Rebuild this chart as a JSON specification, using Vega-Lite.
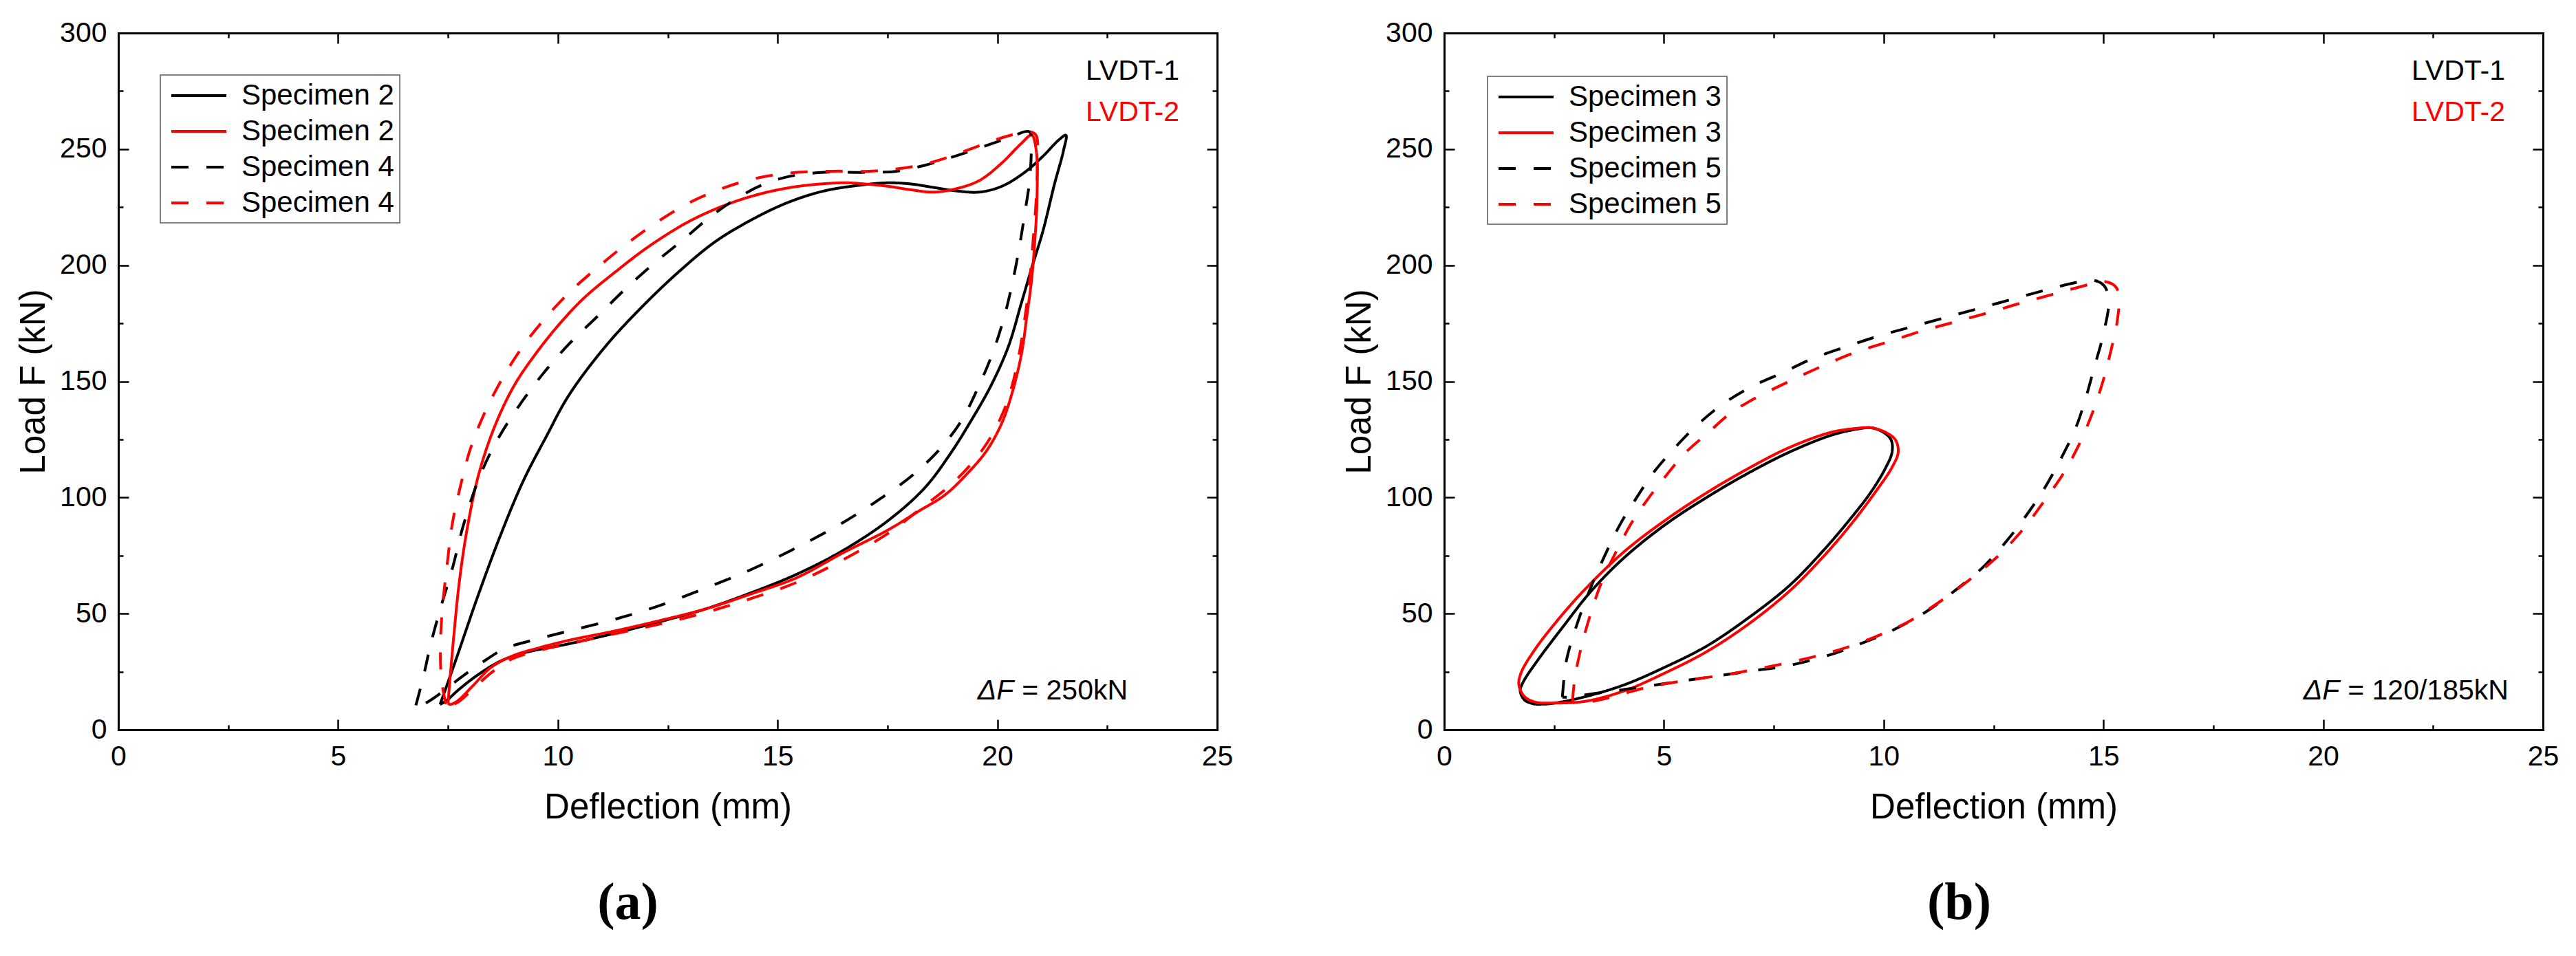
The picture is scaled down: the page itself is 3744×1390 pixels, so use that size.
{
  "$schema": "https://vega.github.io/schema/vega-lite/v6.json",
  "background": "white",
  "padding": {"left": 23, "top": 27, "right": 10, "bottom": 10},
  "spacing": 158,
  "datasets": {
    "a": [
      {"s":"S2-1","x":7.32,"y":10.9},{"s":"S2-1","x":7.66,"y":29},{"s":"S2-1","x":8.17,"y":57},{"s":"S2-1","x":8.69,"y":83.5},{"s":"S2-1","x":9.21,"y":107},{"s":"S2-1","x":9.73,"y":126},{"s":"S2-1","x":10.25,"y":144},{"s":"S2-1","x":11.08,"y":165},{"s":"S2-1","x":11.91,"y":182},{"s":"S2-1","x":12.74,"y":197},{"s":"S2-1","x":13.57,"y":210},{"s":"S2-1","x":14.4,"y":219.5},{"s":"S2-1","x":15.23,"y":227},{"s":"S2-1","x":16.06,"y":232},{"s":"S2-1","x":16.89,"y":234.5},{"s":"S2-1","x":17.51,"y":235.5},{"s":"S2-1","x":18.03,"y":235},{"s":"S2-1","x":18.55,"y":233.5},{"s":"S2-1","x":19.07,"y":232},{"s":"S2-1","x":19.59,"y":231.5},{"s":"S2-1","x":20.1,"y":234},{"s":"S2-1","x":20.62,"y":240},{"s":"S2-1","x":21.04,"y":247},{"s":"S2-1","x":21.4,"y":254},{"s":"S2-1","x":21.56,"y":256},
      {"s":"S2-1","x":21.5,"y":249},{"s":"S2-1","x":21.3,"y":235},{"s":"S2-1","x":21.04,"y":215},{"s":"S2-1","x":20.8,"y":200},{"s":"S2-1","x":20.55,"y":184},{"s":"S2-1","x":20.25,"y":165},{"s":"S2-1","x":19.85,"y":148},{"s":"S2-1","x":19.4,"y":133},{"s":"S2-1","x":18.9,"y":118},{"s":"S2-1","x":18.34,"y":104},{"s":"S2-1","x":17.51,"y":90},{"s":"S2-1","x":16.47,"y":77},{"s":"S2-1","x":15.44,"y":67},{"s":"S2-1","x":14.4,"y":59},{"s":"S2-1","x":13.36,"y":52},{"s":"S2-1","x":12.32,"y":46.5},{"s":"S2-1","x":11.29,"y":41.5},{"s":"S2-1","x":10.25,"y":37},{"s":"S2-1","x":9.21,"y":33},{"s":"S2-1","x":8.69,"y":29.5},{"s":"S2-1","x":8.17,"y":23.5},{"s":"S2-1","x":7.76,"y":17.5},{"s":"S2-1","x":7.45,"y":12.3},{"s":"S2-1","x":7.32,"y":10.9},

      {"s":"S2-2","x":7.5,"y":11.4},{"s":"S2-2","x":7.62,"y":37.8},{"s":"S2-2","x":7.76,"y":64},{"s":"S2-2","x":7.95,"y":88},{"s":"S2-2","x":8.2,"y":110},{"s":"S2-2","x":8.55,"y":130},{"s":"S2-2","x":9.0,"y":148},{"s":"S2-2","x":9.5,"y":162},{"s":"S2-2","x":10.05,"y":175},{"s":"S2-2","x":10.6,"y":186},{"s":"S2-2","x":11.3,"y":197},{"s":"S2-2","x":12.1,"y":208.5},{"s":"S2-2","x":13.1,"y":220},{"s":"S2-2","x":14.2,"y":228.5},{"s":"S2-2","x":15.3,"y":233.5},{"s":"S2-2","x":16.47,"y":235.5},{"s":"S2-2","x":16.99,"y":235},{"s":"S2-2","x":17.51,"y":234},{"s":"S2-2","x":18.03,"y":232.5},{"s":"S2-2","x":18.55,"y":231.5},{"s":"S2-2","x":19.07,"y":233},{"s":"S2-2","x":19.59,"y":236.5},{"s":"S2-2","x":20.1,"y":244},{"s":"S2-2","x":20.52,"y":252},{"s":"S2-2","x":20.78,"y":256},
      {"s":"S2-2","x":20.88,"y":250},{"s":"S2-2","x":20.9,"y":227.6},{"s":"S2-2","x":20.85,"y":210},{"s":"S2-2","x":20.78,"y":194},{"s":"S2-2","x":20.67,"y":178},{"s":"S2-2","x":20.55,"y":162},{"s":"S2-2","x":20.35,"y":146},{"s":"S2-2","x":20.1,"y":132},{"s":"S2-2","x":19.75,"y":120},{"s":"S2-2","x":19.3,"y":110},{"s":"S2-2","x":18.8,"y":101},{"s":"S2-2","x":18.2,"y":94},{"s":"S2-2","x":17.51,"y":86},{"s":"S2-2","x":16.47,"y":76},{"s":"S2-2","x":15.44,"y":65.5},{"s":"S2-2","x":14.4,"y":58.5},{"s":"S2-2","x":13.36,"y":52},{"s":"S2-2","x":12.32,"y":47},{"s":"S2-2","x":11.29,"y":42.5},{"s":"S2-2","x":10.25,"y":38.5},{"s":"S2-2","x":9.52,"y":35},{"s":"S2-2","x":9.0,"y":32},{"s":"S2-2","x":8.49,"y":27},{"s":"S2-2","x":8.07,"y":19},{"s":"S2-2","x":7.71,"y":12.3},{"s":"S2-2","x":7.55,"y":10.9},{"s":"S2-2","x":7.5,"y":11.4},

      {"s":"S4-1","x":6.77,"y":10.5},{"s":"S4-1","x":6.93,"y":22},{"s":"S4-1","x":7.12,"y":37.8},{"s":"S4-1","x":7.35,"y":53.6},{"s":"S4-1","x":7.6,"y":69.4},{"s":"S4-1","x":7.85,"y":88},{"s":"S4-1","x":8.2,"y":108},{"s":"S4-1","x":8.6,"y":124},{"s":"S4-1","x":9.1,"y":139},{"s":"S4-1","x":9.65,"y":153},{"s":"S4-1","x":10.25,"y":166},{"s":"S4-1","x":10.9,"y":178},{"s":"S4-1","x":11.55,"y":190},{"s":"S4-1","x":12.2,"y":201},{"s":"S4-1","x":12.85,"y":211},{"s":"S4-1","x":13.45,"y":220.6},{"s":"S4-1","x":14.05,"y":228.5},{"s":"S4-1","x":14.65,"y":234.6},{"s":"S4-1","x":15.33,"y":238.5},{"s":"S4-1","x":16.06,"y":240},{"s":"S4-1","x":16.99,"y":240},{"s":"S4-1","x":17.72,"y":240.5},{"s":"S4-1","x":18.34,"y":243},{"s":"S4-1","x":18.96,"y":246.5},{"s":"S4-1","x":19.59,"y":250.5},{"s":"S4-1","x":20.21,"y":254.5},{"s":"S4-1","x":20.73,"y":257.5},
      {"s":"S4-1","x":20.77,"y":252},{"s":"S4-1","x":20.73,"y":236},{"s":"S4-1","x":20.62,"y":222},{"s":"S4-1","x":20.52,"y":210},{"s":"S4-1","x":20.36,"y":194},{"s":"S4-1","x":20.16,"y":178},{"s":"S4-1","x":19.9,"y":162.6},{"s":"S4-1","x":19.59,"y":148.5},{"s":"S4-1","x":19.17,"y":132.7},{"s":"S4-1","x":18.65,"y":120},{"s":"S4-1","x":18.03,"y":109},{"s":"S4-1","x":17.3,"y":99},{"s":"S4-1","x":16.47,"y":89},{"s":"S4-1","x":15.44,"y":78.5},{"s":"S4-1","x":14.4,"y":69},{"s":"S4-1","x":13.36,"y":61},{"s":"S4-1","x":12.32,"y":53.5},{"s":"S4-1","x":11.29,"y":47.5},{"s":"S4-1","x":10.25,"y":42.5},{"s":"S4-1","x":9.42,"y":38.5},{"s":"S4-1","x":8.8,"y":35},{"s":"S4-1","x":8.28,"y":29},{"s":"S4-1","x":7.76,"y":22},{"s":"S4-1","x":7.34,"y":15.8},{"s":"S4-1","x":6.98,"y":11.4},{"s":"S4-1","x":6.77,"y":10.5},

      {"s":"S4-2","x":7.45,"y":11},{"s":"S4-2","x":7.35,"y":22},{"s":"S4-2","x":7.33,"y":37.8},{"s":"S4-2","x":7.38,"y":53.6},{"s":"S4-2","x":7.48,"y":71},{"s":"S4-2","x":7.6,"y":88.8},{"s":"S4-2","x":7.78,"y":104.6},{"s":"S4-2","x":8.0,"y":120.4},{"s":"S4-2","x":8.3,"y":135},{"s":"S4-2","x":8.7,"y":150},{"s":"S4-2","x":9.2,"y":165},{"s":"S4-2","x":9.75,"y":178},{"s":"S4-2","x":10.3,"y":189},{"s":"S4-2","x":10.9,"y":199},{"s":"S4-2","x":11.55,"y":209},{"s":"S4-2","x":12.25,"y":218.5},{"s":"S4-2","x":13.0,"y":227},{"s":"S4-2","x":13.8,"y":233.5},{"s":"S4-2","x":14.6,"y":237.8},{"s":"S4-2","x":15.44,"y":240},{"s":"S4-2","x":16.27,"y":240.5},{"s":"S4-2","x":17.09,"y":240.5},{"s":"S4-2","x":17.72,"y":241.5},{"s":"S4-2","x":18.34,"y":243.5},{"s":"S4-2","x":18.96,"y":247},{"s":"S4-2","x":19.59,"y":251.5},{"s":"S4-2","x":20.21,"y":255.5},{"s":"S4-2","x":20.73,"y":257.5},{"s":"S4-2","x":20.88,"y":256},
      {"s":"S4-2","x":20.91,"y":245},{"s":"S4-2","x":20.88,"y":227.6},{"s":"S4-2","x":20.81,"y":210},{"s":"S4-2","x":20.73,"y":192.4},{"s":"S4-2","x":20.62,"y":176.6},{"s":"S4-2","x":20.52,"y":164.3},{"s":"S4-2","x":20.36,"y":150},{"s":"S4-2","x":20.16,"y":138},{"s":"S4-2","x":19.84,"y":125.7},{"s":"S4-2","x":19.43,"y":115},{"s":"S4-2","x":18.91,"y":105},{"s":"S4-2","x":18.24,"y":95},{"s":"S4-2","x":17.51,"y":84.5},{"s":"S4-2","x":16.47,"y":73},{"s":"S4-2","x":15.44,"y":63.5},{"s":"S4-2","x":14.4,"y":56.5},{"s":"S4-2","x":13.36,"y":50.5},{"s":"S4-2","x":12.32,"y":45.5},{"s":"S4-2","x":11.29,"y":41.3},{"s":"S4-2","x":10.25,"y":37},{"s":"S4-2","x":9.42,"y":33.4},{"s":"S4-2","x":8.9,"y":30},{"s":"S4-2","x":8.49,"y":24.6},{"s":"S4-2","x":8.07,"y":17.6},{"s":"S4-2","x":7.76,"y":12.3},{"s":"S4-2","x":7.55,"y":10.5},{"s":"S4-2","x":7.45,"y":11}
    ],
    "b": [
      {"s":"S3-1","x":2.07,"y":11},{"s":"S3-1","x":2.41,"y":11.2},{"s":"S3-1","x":3.16,"y":14},{"s":"S3-1","x":4.09,"y":19.3},{"s":"S3-1","x":5.03,"y":27},{"s":"S3-1","x":5.97,"y":36},{"s":"S3-1","x":6.91,"y":48},{"s":"S3-1","x":7.85,"y":62},{"s":"S3-1","x":8.6,"y":76.6},{"s":"S3-1","x":9.25,"y":91},{"s":"S3-1","x":9.72,"y":102.6},{"s":"S3-1","x":10.05,"y":113},{"s":"S3-1","x":10.19,"y":119.5},{"s":"S3-1","x":10.17,"y":124.7},{"s":"S3-1","x":10.0,"y":128},{"s":"S3-1","x":9.72,"y":130},{"s":"S3-1","x":9.35,"y":129.3},{"s":"S3-1","x":8.79,"y":126.7},{"s":"S3-1","x":7.85,"y":119.5},{"s":"S3-1","x":6.91,"y":110.4},{"s":"S3-1","x":5.97,"y":100},{"s":"S3-1","x":5.03,"y":88.3},{"s":"S3-1","x":4.09,"y":74},{"s":"S3-1","x":3.34,"y":59.6},{"s":"S3-1","x":2.69,"y":44},{"s":"S3-1","x":2.12,"y":29.7},{"s":"S3-1","x":1.8,"y":20.6},{"s":"S3-1","x":1.73,"y":16.7},{"s":"S3-1","x":1.84,"y":12.6},{"s":"S3-1","x":2.07,"y":11},

      {"s":"S3-2","x":2.31,"y":11.5},{"s":"S3-2","x":3.16,"y":12.1},{"s":"S3-2","x":4.09,"y":16.7},{"s":"S3-2","x":5.03,"y":24.5},{"s":"S3-2","x":5.97,"y":33.6},{"s":"S3-2","x":6.91,"y":45.3},{"s":"S3-2","x":7.85,"y":59.6},{"s":"S3-2","x":8.6,"y":74},{"s":"S3-2","x":9.25,"y":88.3},{"s":"S3-2","x":9.82,"y":102.6},{"s":"S3-2","x":10.19,"y":113},{"s":"S3-2","x":10.33,"y":119.5},{"s":"S3-2","x":10.27,"y":124.7},{"s":"S3-2","x":10.05,"y":128},{"s":"S3-2","x":9.72,"y":130},{"s":"S3-2","x":9.35,"y":129.7},{"s":"S3-2","x":8.79,"y":128},{"s":"S3-2","x":7.85,"y":121.5},{"s":"S3-2","x":6.91,"y":112.4},{"s":"S3-2","x":5.97,"y":102},{"s":"S3-2","x":5.03,"y":90.2},{"s":"S3-2","x":4.09,"y":76.6},{"s":"S3-2","x":3.16,"y":59.6},{"s":"S3-2","x":2.5,"y":45.3},{"s":"S3-2","x":2.03,"y":33.6},{"s":"S3-2","x":1.75,"y":24.5},{"s":"S3-2","x":1.7,"y":19.3},{"s":"S3-2","x":1.84,"y":14},{"s":"S3-2","x":2.12,"y":11.7},{"s":"S3-2","x":2.31,"y":11.5},

      {"s":"S5-1","x":2.69,"y":14},{"s":"S5-1","x":2.78,"y":29.7},{"s":"S5-1","x":3.02,"y":45.3},{"s":"S5-1","x":3.3,"y":59.6},{"s":"S5-1","x":3.63,"y":74},{"s":"S5-1","x":4.0,"y":88.3},{"s":"S5-1","x":4.38,"y":100},{"s":"S5-1","x":4.75,"y":110.4},{"s":"S5-1","x":5.22,"y":120.8},{"s":"S5-1","x":5.69,"y":130},{"s":"S5-1","x":6.25,"y":139},{"s":"S5-1","x":6.91,"y":146.9},{"s":"S5-1","x":7.66,"y":153.4},{"s":"S5-1","x":8.41,"y":160},{"s":"S5-1","x":9.16,"y":165},{"s":"S5-1","x":9.91,"y":169.7},{"s":"S5-1","x":10.66,"y":173.6},{"s":"S5-1","x":11.41,"y":177.5},{"s":"S5-1","x":12.16,"y":181.4},{"s":"S5-1","x":12.91,"y":185.3},{"s":"S5-1","x":13.66,"y":189.2},{"s":"S5-1","x":14.41,"y":192.7},{"s":"S5-1","x":14.79,"y":193.5},{"s":"S5-1","x":15.02,"y":191.1},{"s":"S5-1","x":15.12,"y":184.6},{"s":"S5-1","x":14.98,"y":169},{"s":"S5-1","x":14.79,"y":156},{"s":"S5-1","x":14.6,"y":143},{"s":"S5-1","x":14.37,"y":130},{"s":"S5-1","x":14.04,"y":117},{"s":"S5-1","x":13.66,"y":104},{"s":"S5-1","x":13.29,"y":93.5},{"s":"S5-1","x":12.82,"y":81.8},{"s":"S5-1","x":12.26,"y":70},{"s":"S5-1","x":11.6,"y":59.6},{"s":"S5-1","x":10.94,"y":50.5},{"s":"S5-1","x":10.19,"y":42.7},{"s":"S5-1","x":9.44,"y":36.8},{"s":"S5-1","x":8.79,"y":32.3},{"s":"S5-1","x":7.85,"y":27.7},{"s":"S5-1","x":6.91,"y":25.1},{"s":"S5-1","x":5.97,"y":22.5},{"s":"S5-1","x":5.03,"y":19.9},{"s":"S5-1","x":4.09,"y":17.3},{"s":"S5-1","x":3.34,"y":15.4},{"s":"S5-1","x":2.88,"y":14.1},{"s":"S5-1","x":2.69,"y":14},

      {"s":"S5-2","x":2.92,"y":12.1},{"s":"S5-2","x":2.97,"y":21.9},{"s":"S5-2","x":3.11,"y":34.9},{"s":"S5-2","x":3.3,"y":47.9},{"s":"S5-2","x":3.58,"y":63.5},{"s":"S5-2","x":3.91,"y":76.6},{"s":"S5-2","x":4.28,"y":89.6},{"s":"S5-2","x":4.66,"y":100},{"s":"S5-2","x":5.03,"y":109},{"s":"S5-2","x":5.5,"y":119.5},{"s":"S5-2","x":5.97,"y":127.3},{"s":"S5-2","x":6.53,"y":136.5},{"s":"S5-2","x":7.1,"y":143},{"s":"S5-2","x":7.85,"y":150},{"s":"S5-2","x":8.6,"y":156.6},{"s":"S5-2","x":9.35,"y":162.5},{"s":"S5-2","x":10.1,"y":167},{"s":"S5-2","x":10.85,"y":171.6},{"s":"S5-2","x":11.6,"y":175.5},{"s":"S5-2","x":12.35,"y":179.4},{"s":"S5-2","x":13.1,"y":183.6},{"s":"S5-2","x":13.85,"y":187.5},{"s":"S5-2","x":14.6,"y":191.4},{"s":"S5-2","x":14.98,"y":193.1},{"s":"S5-2","x":15.26,"y":191.1},{"s":"S5-2","x":15.35,"y":187.2},{"s":"S5-2","x":15.31,"y":175.5},{"s":"S5-2","x":15.16,"y":162.5},{"s":"S5-2","x":14.98,"y":149.5},{"s":"S5-2","x":14.75,"y":136.5},{"s":"S5-2","x":14.46,"y":123.4},{"s":"S5-2","x":14.09,"y":110.4},{"s":"S5-2","x":13.66,"y":98.7},{"s":"S5-2","x":13.2,"y":87},{"s":"S5-2","x":12.63,"y":75.3},{"s":"S5-2","x":11.97,"y":64.8},{"s":"S5-2","x":11.32,"y":55.7},{"s":"S5-2","x":10.57,"y":46.6},{"s":"S5-2","x":9.82,"y":40.1},{"s":"S5-2","x":9.07,"y":34.9},{"s":"S5-2","x":8.32,"y":31},{"s":"S5-2","x":7.38,"y":27.1},{"s":"S5-2","x":6.44,"y":23.8},{"s":"S5-2","x":5.5,"y":21.2},{"s":"S5-2","x":4.56,"y":18},{"s":"S5-2","x":3.81,"y":14.1},{"s":"S5-2","x":3.34,"y":12.1},{"s":"S5-2","x":2.97,"y":11.5},{"s":"S5-2","x":2.92,"y":12.1}
    ]
  },
  "hconcat": [
    {
      "width": 1597,
      "height": 1013,
      "title": {"text": "(a)", "orient": "bottom", "font": "Liberation Serif", "fontSize": 76, "fontWeight": "bold", "color": "black", "offset": 77, "dx": -58},
      "layer": [
        {
          "data": {"name": "a"},
          "mark": {"type": "line", "strokeWidth": 4, "interpolate": "catmull-rom", "order": false},
          "encoding": {
            "x": {"field": "x", "type": "quantitative", "scale": {"domain": [0, 25], "nice": false},
              "axis": {"title": "Deflection (mm)", "values": [0, 2.5, 5, 7.5, 10, 12.5, 15, 17.5, 20, 22.5, 25],
                "labelExpr": "datum.value % 5 === 0 ? datum.label : ''",
                "tickSize": {"condition": {"test": "datum.value % 5 === 0", "value": -15}, "value": -7},
                "labelPadding": 34, "minExtent": 59, "maxExtent": 59, "titlePadding": 29}},
            "y": {"field": "y", "type": "quantitative", "scale": {"domain": [0, 300], "nice": false},
              "axis": {"title": "Load F (kN)", "values": [0, 25, 50, 75, 100, 125, 150, 175, 200, 225, 250, 275, 300],
                "labelExpr": "datum.value % 50 === 0 ? datum.label : ''",
                "tickSize": {"condition": {"test": "datum.value % 50 === 0", "value": -15}, "value": -7},
                "labelPadding": 32, "minExtent": 85, "maxExtent": 85, "titlePadding": 12}},
            "color": {"field": "s", "type": "nominal",
              "scale": {"domain": ["S2-1", "S2-2", "S4-1", "S4-2"], "range": ["#000000", "#ff0000", "#000000", "#ff0000"]},
              "legend": {"orient": "top-left", "offset": 61, "title": null,
                "labelExpr": "'Specimen ' + slice(datum.label, 1, 2)",
                "symbolType": "M-0.7,0H3.3", "symbolSize": 1600, "symbolStrokeWidth": 4,
                "labelOffset": 66, "rowPadding": 9, "columnPadding": 0, "padding": 8}},
            "strokeDash": {"field": "s", "type": "nominal",
              "scale": {"domain": ["S2-1", "S2-2", "S4-1", "S4-2"], "range": [[1, 0], [1, 0], [25, 26], [25, 26]]}}
          }
        },
        {
          "data": {"values": [{"t": "LVDT-1", "x": 24.14, "y": 280}, {"t": "LVDT-2", "x": 24.14, "y": 262}]},
          "mark": {"type": "text", "align": "right", "baseline": "alphabetic", "fontSize": 41},
          "encoding": {
            "x": {"field": "x", "type": "quantitative",
              "axis": {"orient": "top", "labels": false, "title": null, "minExtent": 0, "maxExtent": 0, "values": [0, 2.5, 5, 7.5, 10, 12.5, 15, 17.5, 20, 22.5, 25],
                "tickSize": {"condition": {"test": "datum.value % 5 === 0", "value": -15}, "value": -7}}},
            "y": {"field": "y", "type": "quantitative",
              "axis": {"orient": "right", "labels": false, "title": null, "minExtent": 0, "maxExtent": 0, "values": [0, 25, 50, 75, 100, 125, 150, 175, 200, 225, 250, 275, 300],
                "tickSize": {"condition": {"test": "datum.value % 50 === 0", "value": -15}, "value": -7}}},
            "text": {"field": "t"},
            "color": {"condition": {"test": "datum.t === 'LVDT-2'", "value": "#ff0000"}, "value": "#000000"}
          }
        },
        {
          "data": {"values": [{"t": "ΔF", "x": 20.37, "y": 13}]},
          "mark": {"type": "text", "align": "right", "baseline": "alphabetic", "fontSize": 41, "fontStyle": "italic", "color": "black"},
          "encoding": {
            "x": {"field": "x", "type": "quantitative", "axis": null},
            "y": {"field": "y", "type": "quantitative", "axis": null},
            "text": {"field": "t"}
          }
        },
        {
          "data": {"values": [{"t": "= 250kN", "x": 20.37, "y": 13}]},
          "mark": {"type": "text", "align": "left", "baseline": "alphabetic", "fontSize": 41, "dx": 12, "color": "black"},
          "encoding": {
            "x": {"field": "x", "type": "quantitative", "axis": null},
            "y": {"field": "y", "type": "quantitative", "axis": null},
            "text": {"field": "t"}
          }
        }
      ],
      "resolve": {"axis": {"x": "independent", "y": "independent"}}
    },
    {
      "width": 1597,
      "height": 1013,
      "title": {"text": "(b)", "orient": "bottom", "font": "Liberation Serif", "fontSize": 76, "fontWeight": "bold", "color": "black", "offset": 77, "dx": -50},
      "layer": [
        {
          "data": {"name": "b"},
          "mark": {"type": "line", "strokeWidth": 4, "interpolate": "catmull-rom", "order": false},
          "encoding": {
            "x": {"field": "x", "type": "quantitative", "scale": {"domain": [0, 25], "nice": false},
              "axis": {"title": "Deflection (mm)", "values": [0, 2.5, 5, 7.5, 10, 12.5, 15, 17.5, 20, 22.5, 25],
                "labelExpr": "datum.value % 5 === 0 ? datum.label : ''",
                "tickSize": {"condition": {"test": "datum.value % 5 === 0", "value": -15}, "value": -7},
                "labelPadding": 34, "minExtent": 59, "maxExtent": 59, "titlePadding": 29}},
            "y": {"field": "y", "type": "quantitative", "scale": {"domain": [0, 300], "nice": false},
              "axis": {"title": "Load F (kN)", "values": [0, 25, 50, 75, 100, 125, 150, 175, 200, 225, 250, 275, 300],
                "labelExpr": "datum.value % 50 === 0 ? datum.label : ''",
                "tickSize": {"condition": {"test": "datum.value % 50 === 0", "value": -15}, "value": -7},
                "labelPadding": 32, "minExtent": 85, "maxExtent": 85, "titlePadding": 12}},
            "color": {"field": "s", "type": "nominal",
              "scale": {"domain": ["S3-1", "S3-2", "S5-1", "S5-2"], "range": ["#000000", "#ff0000", "#000000", "#ff0000"]},
              "legend": {"orient": "top-left", "offset": 63, "title": null,
                "labelExpr": "'Specimen ' + slice(datum.label, 1, 2)",
                "symbolType": "M-0.7,0H3.3", "symbolSize": 1600, "symbolStrokeWidth": 4,
                "labelOffset": 66, "rowPadding": 9, "columnPadding": 0, "padding": 8}},
            "strokeDash": {"field": "s", "type": "nominal",
              "scale": {"domain": ["S3-1", "S3-2", "S5-1", "S5-2"], "range": [[1, 0], [1, 0], [25, 26], [25, 26]]}}
          }
        },
        {
          "data": {"values": [{"t": "LVDT-1", "x": 24.14, "y": 280}, {"t": "LVDT-2", "x": 24.14, "y": 262}]},
          "mark": {"type": "text", "align": "right", "baseline": "alphabetic", "fontSize": 41},
          "encoding": {
            "x": {"field": "x", "type": "quantitative",
              "axis": {"orient": "top", "labels": false, "title": null, "minExtent": 0, "maxExtent": 0, "values": [0, 2.5, 5, 7.5, 10, 12.5, 15, 17.5, 20, 22.5, 25],
                "tickSize": {"condition": {"test": "datum.value % 5 === 0", "value": -15}, "value": -7}}},
            "y": {"field": "y", "type": "quantitative",
              "axis": {"orient": "right", "labels": false, "title": null, "minExtent": 0, "maxExtent": 0, "values": [0, 25, 50, 75, 100, 125, 150, 175, 200, 225, 250, 275, 300],
                "tickSize": {"condition": {"test": "datum.value % 50 === 0", "value": -15}, "value": -7}}},
            "text": {"field": "t"},
            "color": {"condition": {"test": "datum.t === 'LVDT-2'", "value": "#ff0000"}, "value": "#000000"}
          }
        },
        {
          "data": {"values": [{"t": "ΔF", "x": 20.37, "y": 13}]},
          "mark": {"type": "text", "align": "right", "baseline": "alphabetic", "fontSize": 41, "fontStyle": "italic", "color": "black"},
          "encoding": {
            "x": {"field": "x", "type": "quantitative", "axis": null},
            "y": {"field": "y", "type": "quantitative", "axis": null},
            "text": {"field": "t"}
          }
        },
        {
          "data": {"values": [{"t": "= 120/185kN", "x": 20.37, "y": 13}]},
          "mark": {"type": "text", "align": "left", "baseline": "alphabetic", "fontSize": 41, "dx": 12, "color": "black"},
          "encoding": {
            "x": {"field": "x", "type": "quantitative", "axis": null},
            "y": {"field": "y", "type": "quantitative", "axis": null},
            "text": {"field": "t"}
          }
        }
      ],
      "resolve": {"axis": {"x": "independent", "y": "independent"}}
    }
  ],
  "resolve": {
    "scale": {"x": "independent", "y": "independent", "color": "independent", "strokeDash": "independent"},
    "legend": {"color": "independent", "strokeDash": "independent"},
    "axis": {"x": "independent", "y": "independent"}
  },
  "config": {
    "font": "Liberation Sans",
    "view": {"stroke": null},
    "axis": {
      "grid": false, "domainColor": "black", "domainWidth": 3, "domainCap": "square",
      "tickColor": "black", "tickWidth": 2.5, "labelFlush": false, "labelOverlap": false,
      "labelFont": "Liberation Sans", "labelFontSize": 41, "labelColor": "black",
      "titleFont": "Liberation Sans", "titleFontSize": 51, "titleFontWeight": "normal", "titleColor": "black"
    },
    "legend": {
      "labelFont": "Liberation Sans", "labelFontSize": 42, "labelColor": "black", "labelLimit": 0,
      "strokeColor": "#808080", "strokeWidth": 2, "fillColor": "white"
    },
    "text": {"font": "Liberation Sans"}
  }
}
